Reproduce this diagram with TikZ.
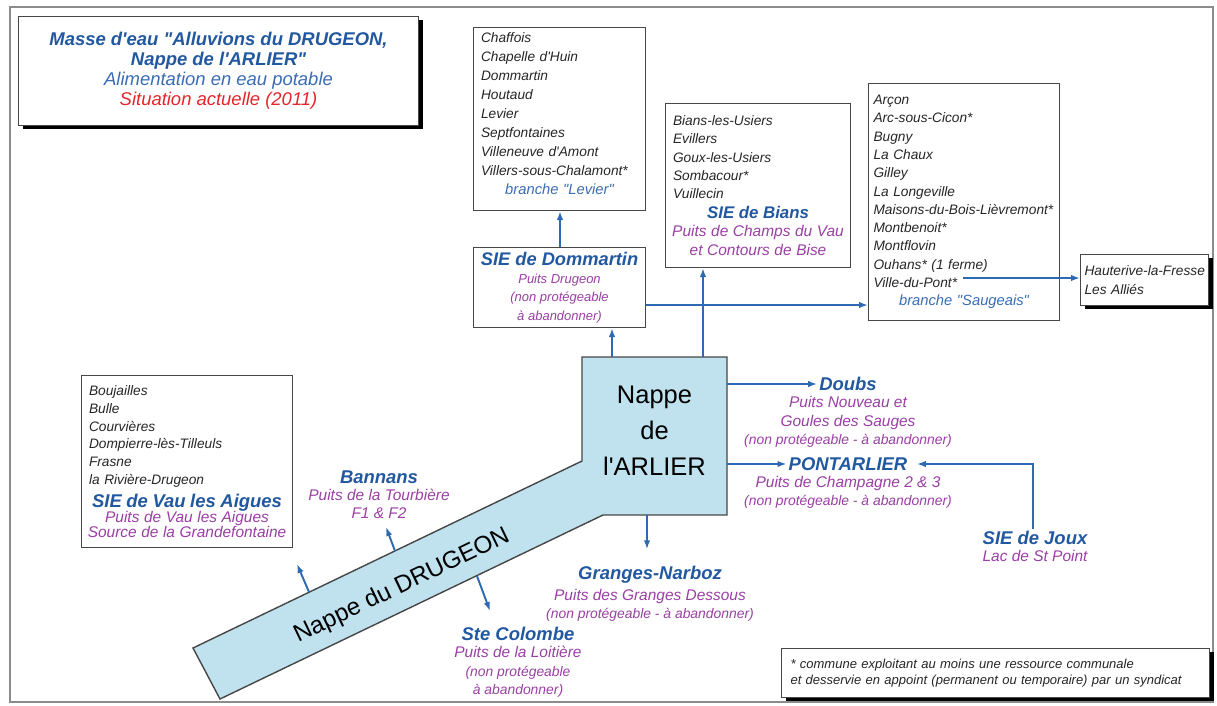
\documentclass[tikz,border=0pt]{standalone}
\usepackage{fontspec}
\setmainfont{Liberation Sans}[Ligatures=TeXOff]
\usetikzlibrary{arrows.meta,positioning,shadows}
\definecolor{ink}{HTML}{262626}
\definecolor{boxline}{HTML}{474747}
\definecolor{frame}{HTML}{8C8C8C}
\definecolor{deepblue}{HTML}{2258A0}
\definecolor{midblue}{HTML}{3A6DB5}
\definecolor{flowblue}{HTML}{2E6AB3}
\definecolor{plum}{HTML}{9A3FA4}
\definecolor{alert}{HTML}{E3262B}
\definecolor{water}{HTML}{BFE2EE}
\newcommand{\listfont}{\itshape\fontsize{7.8}{10.4}\selectfont}
\newcommand{\sitefont}{\bfseries\itshape\fontsize{10.5}{12}\selectfont}
\newcommand{\wellfont}{\itshape\fontsize{8.8}{10.6}\selectfont}
\newcommand{\smallwell}{\itshape\fontsize{7.9}{9.4}\selectfont}
\newcommand{\branchfont}{\itshape\fontsize{8.4}{10.4}\selectfont\color{midblue}}
\tikzset{listbox/.style={draw=boxline,line width=0.6pt,fill=white,anchor=north west,inner xsep=1.5mm,inner ysep=0pt,align=left,font=\listfont,text=ink},
site/.style={font=\sitefont,text=deepblue,inner sep=1pt},
well/.style={font=\wellfont,text=plum,align=center,inner sep=0pt},
flow/.style={-{Latex[length=1.8mm,width=1.3mm]},line width=1.1pt,flowblue},
boxshadow/.style={drop shadow={shadow xshift=0.9mm,shadow yshift=-0.6mm,fill=black,opacity=1}}}

\begin{document}
\begin{tikzpicture}[x=0.2mm,y=-0.2mm]
\useasboundingbox (0,0) rectangle (1217,705);
\draw[frame,line width=1.1pt] (10,7) rectangle (1213,702);

% title
\node[listbox,boxshadow,align=center,minimum width=80mm,minimum height=21.8mm,
 font=\itshape\fontsize{10.5}{11.4}\selectfont] (title) at (18,16)
 {{\bfseries\color{deepblue}Masse d'eau "Alluvions du DRUGEON,}\\
  {\bfseries\color{deepblue}Nappe de l'ARLIER"}\\
  {\color{midblue}Alimentation en eau potable}\\
  {\color{alert}Situation actuelle (2011)}};

% communes
\node[listbox,text width=31.4mm,minimum height=36.6mm,font=\itshape\fontsize{7.8}{10.8}\selectfont] (levier) at (473,27)
 {Chaffois\\Chapelle d'Huin\\Dommartin\\Houtaud\\Levier\\Septfontaines\\Villeneuve d'Amont\\
  Villers-sous-Chalamont*\\\makebox[\linewidth]{\branchfont branche "Levier"}\rule[-6pt]{0pt}{1pt}};
\node[listbox,align=center,inner xsep=0.6mm,minimum width=34.4mm,minimum height=16mm] (dommartin) at (473,247)
 {{\bfseries\itshape\fontsize{10.4}{12}\selectfont\color{deepblue}SIE de Dommartin}\\
  {\itshape\fontsize{7.4}{9}\selectfont\color{plum}Puits Drugeon}\\
  {\itshape\fontsize{7.4}{9}\selectfont\color{plum}(non protégeable}\\
  {\itshape\fontsize{7.4}{9}\selectfont\color{plum}à abandonner)}};
\node[listbox,text width=34mm,minimum height=32.8mm] (bians) at (665,103)
 {Bians-les-Usiers\\Evillers\\Goux-les-Usiers\\Sombacour*\\Vuillecin\\[1pt]
  \makebox[\linewidth]{\bfseries\itshape\fontsize{9.6}{12}\selectfont\color{deepblue}SIE de Bians}\\
  \makebox[\linewidth]{\wellfont\color{plum}Puits de Champs du Vau}\\
  \makebox[\linewidth]{\wellfont\color{plum}et Contours de Bise}};
\node[listbox,inner xsep=1mm,text width=36.2mm,minimum height=47.4mm] (saugeais) at (868,83)
 {Arçon\\Arc-sous-Cicon*\\Bugny\\La Chaux\\Gilley\\La Longeville\\Maisons-du-Bois-Lièvremont*\\
  Montbenoit*\\Montflovin\\Ouhans* (1 ferme)\\Ville-du-Pont*\\
  \makebox[\linewidth]{\branchfont branche "Saugeais"}};
\node[listbox,boxshadow,inner xsep=0.8mm,text width=24mm,minimum height=10.2mm] (hauterive) at (1080,254)
 {\mbox{Hauterive-la-Fresse}\\Les Alliés};
\node[listbox,text width=39.2mm,minimum height=34.4mm,font=\itshape\fontsize{7.8}{10.2}\selectfont] (vau) at (81,375)
 {Boujailles\\Bulle\\Courvières\\Dompierre-lès-Tilleuls\\Frasne\\la Rivière-Drugeon\\[2.5pt]
  \makebox[\linewidth]{\sitefont\color{deepblue}SIE de Vau les Aigues}\\[-1.5pt]
  \makebox[\linewidth]{\wellfont\color{plum}Puits de Vau les Aigues}\\[-1.5pt]
  \makebox[\linewidth]{\wellfont\color{plum}Source de la Grandefontaine}};
\node[listbox,boxshadow,inner xsep=1.8mm,text width=82mm,minimum height=9.8mm,
 font=\itshape\fontsize{7.4}{9.2}\selectfont] (note) at (781,648)
 {* commune exploitant au moins une ressource communale\\
  et desservie en appoint (permanent ou temporaire) par un syndicat};

% nappes
\draw[boxline,line width=0.8pt,fill=water] (193,648) -- (582,461) -- (582,357) -- (727,357)
 -- (727,515) -- (603,515) -- (220,699) -- cycle;
\node[minimum width=29mm,minimum height=31.6mm,inner sep=0pt] (arlier) at (654.5,436) {};
\node[align=center,font=\fontsize{14.5}{20.5}\selectfont] (arliername) at (654.5,431) {Nappe\\de\\l'ARLIER};
\node[rotate=25.7,font=\fontsize{13.8}{15}\selectfont] (drugeon) at (402,586) {Nappe du DRUGEON};

% captages
\node[site] (bannans) at (379,477) {Bannans};
\node[well,below=0.6mm of bannans] (bannanswell) {Puits de la Tourbière\\F1 \& F2};
\node[site] (granges) at (650,575) {Granges-Narboz};
\node[well,below=0.6mm of granges] (grangeswell) {Puits des Granges Dessous\\{\smallwell (non protégeable - à abandonner)}};
\node[site] (colombe) at (518,634) {Ste Colombe};
\node[well,below=0.6mm of colombe] (colombewell) {Puits de la Loitière\\{\smallwell (non protégeable}\\{\smallwell à abandonner)}};
\node[site] (doubs) at (848,384) {Doubs};
\node[well,below=0.6mm of doubs] (doubswell) {Puits Nouveau et\\Goules des Sauges\\{\smallwell (non protégeable - à abandonner)}};
\node[site] (pontarlier) at (848,464) {PONTARLIER};
\node[well,below=0.6mm of pontarlier] (pontarlierwell) {Puits de Champagne 2 \& 3\\{\smallwell (non protégeable - à abandonner)}};
\node[site] (joux) at (1035,538) {SIE de Joux};
\node[well,below=0.6mm of joux] (jouxwell) {Lac de St Point};

% liaisons
\coordinate (vdp) at (963,278);
\coordinate (vfoot) at (309,592);
\coordinate (vtip) at (297,564);
\coordinate (bfoot) at (395,551);
\coordinate (btip) at (386,527);
\coordinate (cfoot) at (477,576);
\coordinate (ctip) at (490,611);
\draw[flow] (dommartin.north -| 560,0) -- (levier.south -| 560,0);
\draw[flow] (arlier.north -| 612,0) -- (dommartin.south -| 612,0);
\draw[flow] (dommartin.east |- 0,305) -- (saugeais.west |- 0,305);
\draw[flow,line width=1.5pt] (arlier.north -| 703,0) -- (bians.south -| 703,0);
\draw[flow] (vdp) -- (hauterive.west |- vdp);
\draw[flow] (arlier.east |- doubs) -- (doubs.west);
\draw[flow] (arlier.east |- pontarlier) -- (pontarlier.west);
\draw[flow,shorten >=1.5mm] (joux.north -| 1033,0) |- (pontarlier.east);
\draw[flow,shorten >=3mm] (arlier.south -| 647,0) -- (granges.north -| 647,0);
\draw[flow] (vfoot) -- (vtip);
\draw[flow] (bfoot) -- (btip);
\draw[flow] (cfoot) -- (ctip);
\end{tikzpicture}
\end{document}
